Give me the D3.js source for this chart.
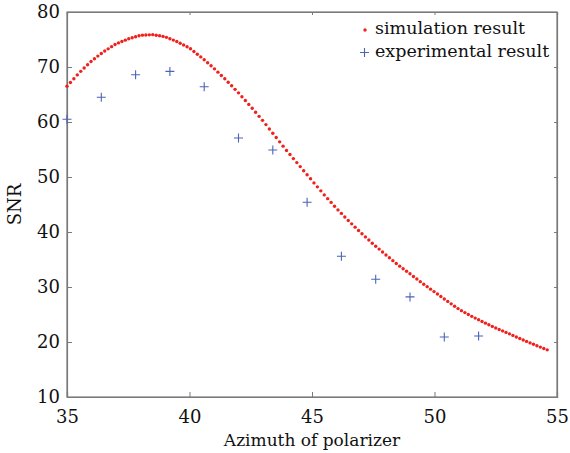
<!DOCTYPE html>
<html><head><meta charset="utf-8">
<script src="https://cdn.jsdelivr.net/npm/d3@7"></script>
<style>body{margin:0;background:#fff}svg{display:block}text{font-family:"DejaVu Serif",serif;fill:#111}</style>
</head><body><div id="chart"></div>
<script>
// Simulation result (red dots)
const simAzimuth = [35.00,35.14,35.28,35.42,35.56,35.70,35.84,35.98,36.12,36.26,36.40,36.54,36.68,36.82,36.96,37.10,37.24,37.38,37.52,37.66,37.80,37.94,38.08,38.22,38.36,38.50,38.64,38.78,38.92,39.06,39.20,39.34,39.48,39.62,39.76,39.90,40.04,40.18,40.32,40.46,40.60,40.74,40.88,41.02,41.16,41.30,41.44,41.58,41.72,41.86,42.00,42.14,42.28,42.42,42.56,42.70,42.84,42.98,43.12,43.26,43.40,43.54,43.68,43.82,43.96,44.10,44.24,44.38,44.52,44.66,44.80,44.94,45.08,45.22,45.36,45.50,45.64,45.78,45.92,46.06,46.20,46.34,46.48,46.62,46.76,46.90,47.04,47.18,47.32,47.46,47.60,47.74,47.88,48.02,48.16,48.30,48.44,48.58,48.72,48.86,49.00,49.14,49.28,49.42,49.56,49.70,49.84,49.98,50.12,50.26,50.40,50.54,50.68,50.82,50.96,51.10,51.24,51.38,51.52,51.66,51.80,51.94,52.08,52.22,52.36,52.50,52.64,52.78,52.92,53.06,53.20,53.34,53.48,53.62,53.76,53.90,54.04,54.18,54.32,54.46,54.60];
const simSNR = [66.50,67.19,67.87,68.56,69.21,69.81,70.41,71.01,71.51,71.98,72.46,72.91,73.30,73.70,74.09,74.38,74.63,74.88,75.13,75.31,75.50,75.69,75.79,75.82,75.85,75.88,75.77,75.67,75.56,75.39,75.14,74.89,74.64,74.32,74.00,73.68,73.31,72.82,72.33,71.84,71.31,70.76,70.22,69.66,69.06,68.46,67.86,67.23,66.59,65.94,65.30,64.60,63.90,63.20,62.49,61.76,61.03,60.30,59.53,58.74,57.96,57.18,56.39,55.61,54.82,54.08,53.35,52.62,51.89,51.15,50.41,49.67,48.93,48.21,47.48,46.75,46.06,45.38,44.69,44.02,43.38,42.74,42.09,41.48,40.88,40.28,39.69,39.11,38.54,37.96,37.42,36.89,36.36,35.83,35.31,34.79,34.27,33.79,33.32,32.86,32.40,31.92,31.45,30.97,30.51,30.06,29.61,29.16,28.72,28.27,27.82,27.38,26.94,26.51,26.07,25.70,25.35,25.00,24.66,24.35,24.04,23.73,23.43,23.14,22.84,22.55,22.28,22.02,21.75,21.48,21.20,20.92,20.64,20.37,20.11,19.84,19.58,19.33,19.07,18.82,18.57];
// Experimental result (blue crosses)
const expAzimuth = [35.0,36.4,37.8,39.2,40.6,42.0,43.4,44.8,46.2,47.6,49.0,50.4,51.8];
const expSNR = [60.5,64.5,68.6,69.2,66.4,57.1,54.9,45.4,35.6,31.4,28.2,20.9,21.1];
const xTicks = [35,40,45,50,55];
const yTicks = [10,20,30,40,50,60,70,80];
const legendLabels = ["simulation result","experimental result"];
const xTitle = "Azimuth of polarizer";
const yTitle = "SNR";

const W = 570, H = 453;
const m = {left:67, right:13, top:12, bottom:56};
const svg = d3.select("#chart").append("svg").attr("width",W).attr("height",H);
const x = d3.scaleLinear().domain([35,55]).range([m.left, W-m.right]);
const y = d3.scaleLinear().domain([10,80]).range([H-m.bottom, m.top]);
const axisColor = "#7a7a7a";

// frame
svg.append("rect").attr("x",x(35)).attr("y",y(80)).attr("width",x(55)-x(35)).attr("height",y(10)-y(80))
  .attr("fill","none").attr("stroke",axisColor).attr("stroke-width",1.2);

const fs = 18;
svg.append("g").attr("transform",`translate(0,${y(10)})`)
  .call(d3.axisBottom(x).tickValues(xTicks).tickSize(-5).tickPadding(13).tickFormat(d3.format("d")));
svg.append("g").attr("transform",`translate(${x(35)},0)`)
  .call(d3.axisLeft(y).tickValues(yTicks).tickSize(-5).tickPadding(7).tickFormat(d3.format("d")));
// mirrored ticks on top and right
svg.append("g").attr("transform",`translate(0,${y(80)})`)
  .call(d3.axisTop(x).tickValues(xTicks).tickSize(-3).tickFormat(""));
svg.append("g").attr("transform",`translate(${x(55)},0)`)
  .call(d3.axisRight(y).tickValues(yTicks).tickSize(-3).tickFormat(""));
svg.selectAll(".domain").attr("stroke",axisColor).attr("stroke-width",1.2);
svg.selectAll(".tick line").attr("stroke",axisColor);
svg.selectAll(".tick text").style("font-family",'"DejaVu Serif",serif').style("font-size",fs+"px").attr("fill","#111");

// simulation dots
svg.append("g").selectAll("circle").data(simAzimuth).join("circle")
  .attr("cx",(d)=>x(d)).attr("cy",(d,i)=>y(simSNR[i])).attr("r",1.7).attr("fill","#f0201c");

// experimental crosses
const cs = 4.5;
const crossPath = (cx,cy)=>`M${cx-cs},${cy}H${cx+cs}M${cx},${cy-cs}V${cy+cs}`;
svg.append("g").selectAll("path").data(expAzimuth).join("path")
  .attr("d",(d,i)=>crossPath(x(d),y(expSNR[i]))).attr("stroke","#4a64b8").attr("stroke-width",1.1).attr("fill","none");

// legend
svg.append("circle").attr("cx",365).attr("cy",30).attr("r",1.7).attr("fill","#f0201c");
svg.append("path").attr("d",crossPath(364.5,52.5)).attr("stroke","#4a64b8").attr("stroke-width",1.1);
svg.append("text").attr("x",375).attr("y",34).style("font-size","17.5px").text(legendLabels[0]);
svg.append("text").attr("x",375).attr("y",57).style("font-size","17.5px").text(legendLabels[1]);

// axis titles
svg.append("text").attr("x",(x(35)+x(55))/2).attr("y",446).attr("text-anchor","middle").style("font-size","17px").text(xTitle);
svg.append("text").attr("transform",`translate(21,${(y(10)+y(80))/2}) rotate(-90)`).attr("text-anchor","middle").style("font-size",fs+"px").text(yTitle);
</script></body></html>
